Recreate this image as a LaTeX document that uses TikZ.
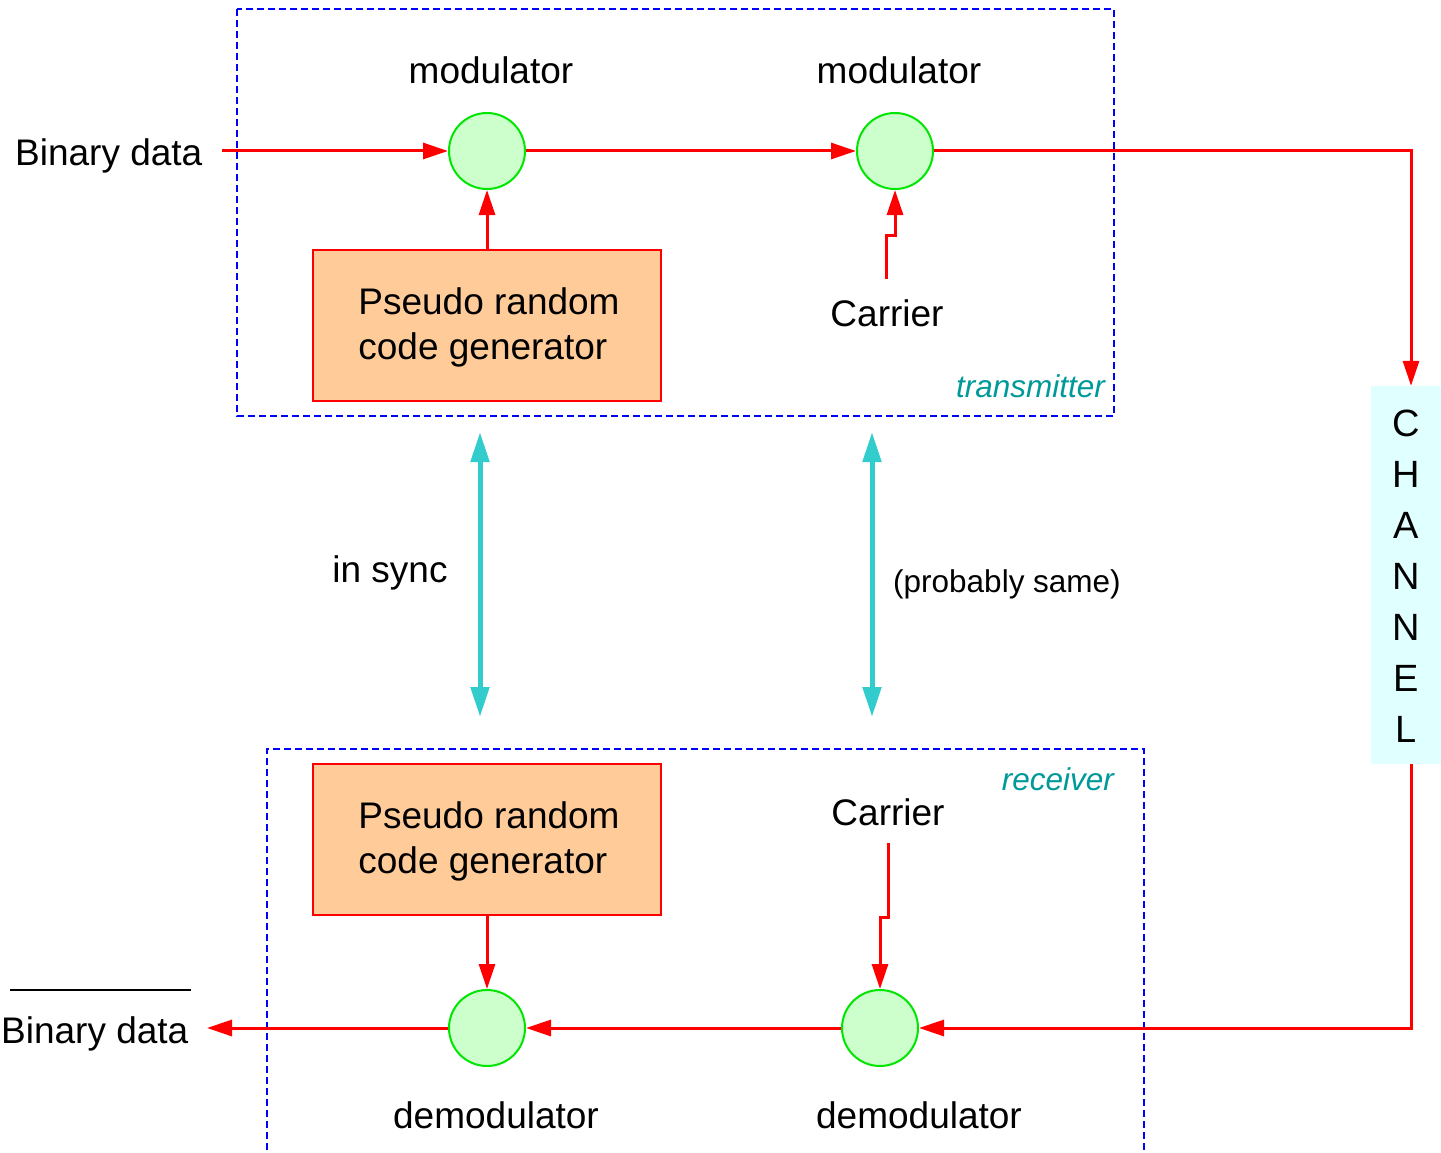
\documentclass[tikz,border=0pt]{standalone}
\usepackage{fontspec}
\setmainfont{Liberation Sans}
\usetikzlibrary{arrows.meta}
\definecolor{sig}{RGB}{255,0,0}
\definecolor{modfill}{RGB}{204,255,204}
\definecolor{modline}{RGB}{0,230,0}
\definecolor{genfill}{RGB}{255,204,153}
\definecolor{chanfill}{RGB}{224,255,255}
\definecolor{syncc}{RGB}{51,204,204}
\definecolor{tagc}{RGB}{0,153,153}
\tikzset{
  lbl/.style={inner sep=0pt, anchor=base, font=\fontsize{37}{44}\selectfont},
  small/.style={inner sep=0pt, font=\fontsize{31.5}{38}\selectfont},
  tag/.style={small, anchor=base east, text=tagc, font=\fontsize{31.5}{38}\selectfont\itshape},
  mix/.style={circle, draw=modline, fill=modfill, line width=2pt, minimum size=76pt, inner sep=0pt},
  gen/.style={draw=sig, fill=genfill, line width=1.5pt, minimum width=348pt, minimum height=151pt, inner sep=0pt},
  gentext/.style={inner sep=0pt, align=left, font=\fontsize{37}{45}\selectfont},
  wire/.style={draw=sig, line width=3pt, -{Triangle[length=25pt,width=16pt]}},
  syncarrow/.style={draw=syncc, line width=5pt, {Triangle[length=30pt,width=18pt]}-{Triangle[length=30pt,width=18pt]}},
  frame/.style={draw=blue, line width=1.5pt, dash pattern=on 7pt off 4pt},
}
\begin{document}
\begin{tikzpicture}[x=1pt, y=-1pt]
\useasboundingbox (0,0) rectangle (1441,1153);

% transmitter and receiver frames
\draw[frame] (237,9) rectangle (1114,416);
\draw[frame] (267,1150) -- (267,749) -- (1144,749) -- (1144,1150);

% channel
\node[fill=chanfill, minimum width=70pt, minimum height=378pt, inner sep=0pt] (chan) at (1406,575) {};
\foreach \ch/\yy in {C/436, H/487, A/538, N/589, N/640, E/691, L/742}
  \node[lbl, font=\fontsize{38}{44}\selectfont] at (1406,\yy) {\ch};
\coordinate (chin) at ([xshift=5pt]chan.north);
\coordinate (chout) at ([xshift=5pt]chan.south);

% transmitter blocks
\node[mix] (mod1) at (487,151) {};
\node[mix] (mod2) at (895,151) {};
\node[gen] (gen1) at (487,325.5) {};
\node[gentext] (gen1txt) at (489,327.5) {Pseudo random\\code generator};
\node[lbl] (mlab1) at (491,84) {modulator};
\node[lbl] (mlab2) at (899,84) {modulator};
\node[lbl, anchor=base west] (bin1) at (15,166) {Binary data};
\node[lbl] (car1) at (887,326) {Carrier};
\node[tag] (ttag) at (1105,397) {transmitter};
\coordinate (binin) at (222,151);
\coordinate (carin) at (886,279);

% receiver blocks
\node[mix] (dem1) at (487,1028) {};
\node[mix] (dem2) at (880,1028) {};
\node[gen] (gen2) at (487,839.5) {};
\node[gentext] (gen2txt) at (489,841.5) {Pseudo random\\code generator};
\node[lbl] (dlab1) at (496,1128) {demodulator};
\node[lbl] (dlab2) at (919,1128) {demodulator};
\node[lbl, anchor=base west] (bin2) at (1,1043) {Binary data};
\node[lbl] (car2) at (888,825) {Carrier};
\node[tag] (rtag) at (1114,790) {receiver};
\coordinate (binout) at (207,1028);
\coordinate (carout) at (888,843);
\draw[line width=1.2pt] (10,990) -- (191,990);

% signal path
\draw[wire] (binin) -- (mod1.west);
\draw[wire] (gen1.north) -- (mod1.south);
\draw[wire] (mod1.east) -- (mod2.west);
\draw[wire] (carin) -- (886,235) -- (895,235) -- (mod2.south);
\draw[wire] (mod2.east) -| (chin);
\draw[wire] (chout) |- (dem2.east);
\draw[wire] (carout) -- (888,917) -- (880,917) -- (dem2.north);
\draw[wire] (dem2.west) -- (dem1.east);
\draw[wire] (gen2.south) -- (dem1.north);
\draw[wire] (dem1.west) -- (binout);

% synchronisation
\coordinate (s1t) at (480,432);
\coordinate (s1b) at (480,717);
\coordinate (s2t) at (872,432);
\coordinate (s2b) at (872,717);
\draw[syncarrow] (s1t) -- (s1b);
\draw[syncarrow] (s2t) -- (s2b);
\node[lbl] (sync) at (390,582) {in sync};
\node[small, anchor=base] (same) at (1007,592) {(probably same)};
\end{tikzpicture}
\end{document}
